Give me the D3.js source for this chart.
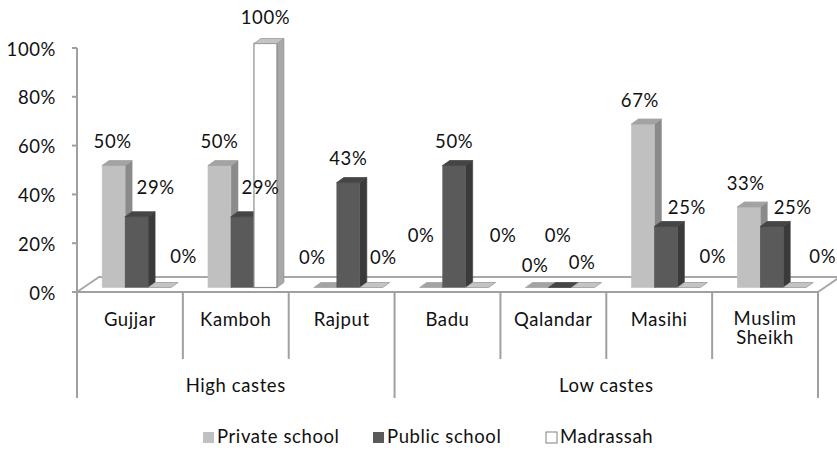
<!DOCTYPE html>
<html>
<head>
<meta charset="utf-8">
<script src="https://cdn.jsdelivr.net/npm/d3@7/dist/d3.min.js"></script>
<style>
  html, body { margin: 0; padding: 0; background: #fff; }
  svg { display: block; font-family: Lato, "Open Sans", sans-serif; letter-spacing: 0.6px; }
  text { fill: #111; }
</style>
</head>
<body>
<svg id="chart" width="837" height="450"></svg>
<script>
// Schooling by caste: share of children in each type of school
const categories = ["Gujjar", "Kamboh", "Rajput", "Badu", "Qalandar", "Masihi", "Muslim Sheikh"];
const groupNames = ["High castes", "Low castes"];
const groupSizes = [3, 4];
const seriesNames = ["Private school", "Public school", "Madrassah"];
const privateSchool = [0.50, 0.50, 0.00, 0.00, 0.00, 0.67, 0.33];
const publicSchool  = [0.29, 0.29, 0.43, 0.50, 0.00, 0.25, 0.25];
const madrassah     = [0.00, 1.00, 0.00, 0.00, 0.00, 0.00, 0.00];
const yTicks = [0, 0.2, 0.4, 0.6, 0.8, 1.0];

const seriesValues = [privateSchool, publicSchool, madrassah];

// face colours per series: front, top, side
const palette = [
  { front: "#c0c0c0", top: "#a3a3a3", side: "#8a8a8a", stroke: "none" },
  { front: "#5a5a5a", top: "#454545", side: "#3a3a3a", stroke: "none" },
  { front: "#ffffff", top: "#c4c4c4", side: "#a8a8a8", stroke: "#8c8c8c" }
];
const legendSwatch = ["#c0c0c0", "#5a5a5a", "#ffffff"];

// label nudges (dx, dy) per category and series, to keep labels apart
const labelNudge = [
  [[-1, 0], [19, -5], [24, -7]],
  [[0, 0], [18, -5], [0, -2]],
  [[-13, -6], [0, 0], [12, -6]],
  [[-10, -28], [0, 0], [26, -28]],
  [[-2, 2], [-2, -28], [-1, -1]],
  [[-3, 0], [21, 5], [24, -7]],
  [[-3, 0], [21, 5], [28, -7]]
];

const svg = d3.select("#chart");
const axisColor = "#a0a0a0";
const fontSize = 18.5;

// plot geometry
const left = 77, right = 818, floorY = 292, topY = 48;
const floorDepth = { dx: 22, dy: -15 };   // front edge to back edge of floor
const barShift = { dx: 6.6, dy: -4.5 };   // bars sit slightly back on the floor
const barDepth = { dx: 7, dy: -5 };       // depth of each column

const x = d3.scaleBand().domain(categories).range([left, right]).padding(0);
const xs = d3.scaleBand().domain(seriesNames).range([18.5, 87.5]).padding(0);
const y = d3.scaleLinear().domain([0, 1]).range([floorY, topY]);

// floor parallelogram
svg.append("polygon")
  .attr("points", [
    [left, floorY], [right, floorY],
    [right + floorDepth.dx, floorY + floorDepth.dy],
    [left + floorDepth.dx, floorY + floorDepth.dy]
  ].map(p => p.join(",")).join(" "))
  .attr("fill", "#fff")
  .attr("stroke", "#a8a8a8")
  .attr("stroke-width", 2)
  .attr("stroke-linejoin", "round");

// value axis
const yAxis = svg.append("g");
yAxis.append("line")
  .attr("x1", left).attr("x2", left)
  .attr("y1", y(1)).attr("y2", floorY)
  .attr("stroke", axisColor).attr("stroke-width", 2);
yAxis.selectAll("line.tick").data(yTicks).join("line")
  .attr("class", "tick")
  .attr("x1", left - 5).attr("x2", left)
  .attr("y1", d => y(d)).attr("y2", d => y(d))
  .attr("stroke", axisColor).attr("stroke-width", 2);
yAxis.selectAll("text").data(yTicks).join("text")
  .attr("x", 56)
  .attr("y", d => y(d) + 1)
  .attr("dy", "0.36em")
  .attr("text-anchor", "end")
  .attr("font-size", fontSize)
  .text(d3.format(".0%"));

// category axis line and dividers
const xAxis = svg.append("g");
xAxis.append("line")
  .attr("x1", left).attr("x2", right)
  .attr("y1", floorY).attr("y2", floorY)
  .attr("stroke", axisColor).attr("stroke-width", 2);

const groupEdges = [0];
groupSizes.forEach((n, i) => groupEdges.push(groupEdges[i] + n));
const boundaryX = i => i < categories.length ? x(categories[i]) : right;

d3.range(categories.length + 1).forEach(i => {
  const isGroupEdge = groupEdges.includes(i);
  xAxis.append("line")
    .attr("x1", boundaryX(i)).attr("x2", boundaryX(i))
    .attr("y1", floorY).attr("y2", isGroupEdge ? 398 : 359)
    .attr("stroke", axisColor).attr("stroke-width", 2);
});

// category labels (wrapped when wider than the band)
categories.forEach(c => {
  const t = xAxis.append("text")
    .attr("x", x(c) + x.bandwidth() / 2)
    .attr("y", 326)
    .attr("text-anchor", "middle")
    .attr("font-size", fontSize)
    .text(c);
  if (t.node().getComputedTextLength() > x.bandwidth() - 12) {
    const words = c.split(" ");
    t.text(null).attr("y", 325);
    words.forEach((w, k) => {
      t.append("tspan")
        .attr("x", x(c) + x.bandwidth() / 2)
        .attr("dy", k === 0 ? 0 : 19)
        .text(w);
    });
  }
});

// group labels
groupNames.forEach((g, i) => {
  const x0 = boundaryX(groupEdges[i]), x1 = boundaryX(groupEdges[i + 1]);
  xAxis.append("text")
    .attr("x", (x0 + x1) / 2)
    .attr("y", 392)
    .attr("text-anchor", "middle")
    .attr("font-size", fontSize)
    .text(g);
});

// 3D columns, drawn left to right so each covers its neighbour's side face
const bars = svg.append("g");
const pts = arr => arr.map(p => p.join(",")).join(" ");
categories.forEach((c, ci) => {
  seriesNames.forEach((s, si) => {
    const v = seriesValues[si][ci];
    const col = palette[si];
    const x0 = x(c) + xs(s) + barShift.dx;
    const w = xs.bandwidth();
    const yb = y(0) + barShift.dy;
    const yt = y(v) + barShift.dy;
    const g = bars.append("g");
    if (v > 0) {
      g.append("polygon")
        .attr("points", pts([[x0 + w, yt], [x0 + w + barDepth.dx, yt + barDepth.dy],
                             [x0 + w + barDepth.dx, yb + barDepth.dy], [x0 + w, yb]]))
        .attr("fill", col.side)
        .attr("stroke", col.stroke === "none" ? col.side : col.stroke).attr("stroke-width", 0.6);
      g.append("rect")
        .attr("x", x0).attr("y", yt)
        .attr("width", w).attr("height", yb - yt)
        .attr("fill", col.front)
        .attr("stroke", col.stroke === "none" ? col.front : col.stroke)
        .attr("stroke-width", col.stroke === "none" ? 0.5 : 1.2);
    }
    g.append("polygon")
      .attr("points", pts([[x0, yt], [x0 + w, yt],
                           [x0 + w + barDepth.dx, yt + barDepth.dy], [x0 + barDepth.dx, yt + barDepth.dy]]))
      .attr("fill", col.top)
      .attr("stroke", col.stroke === "none" ? col.top : "#9a9a9a")
      .attr("stroke-width", 0.8);
  });
});

// value labels
const labels = svg.append("g");
categories.forEach((c, ci) => {
  seriesNames.forEach((s, si) => {
    const v = seriesValues[si][ci];
    const nudge = labelNudge[ci][si];
    const cx = x(c) + xs(s) + barShift.dx + xs.bandwidth() / 2 + nudge[0];
    const cy = y(v) + barShift.dy - 24 + nudge[1];
    labels.append("text")
      .attr("x", cx).attr("y", cy)
      .attr("dy", "0.36em")
      .attr("text-anchor", "middle")
      .attr("font-size", fontSize)
      .text(d3.format(".0%")(v));
  });
});

// legend
const legendX = [203, 373, 546];
const legend = svg.append("g");
seriesNames.forEach((s, i) => {
  legend.append("rect")
    .attr("x", legendX[i]).attr("y", 432)
    .attr("width", 11).attr("height", 11)
    .attr("fill", legendSwatch[i])
    .attr("stroke", i === 2 ? "#808080" : "none")
    .attr("stroke-width", 1);
  legend.append("text")
    .attr("x", legendX[i] + 14).attr("y", 443)
    .attr("font-size", fontSize)
    .text(s);
});
</script>
</body>
</html>
